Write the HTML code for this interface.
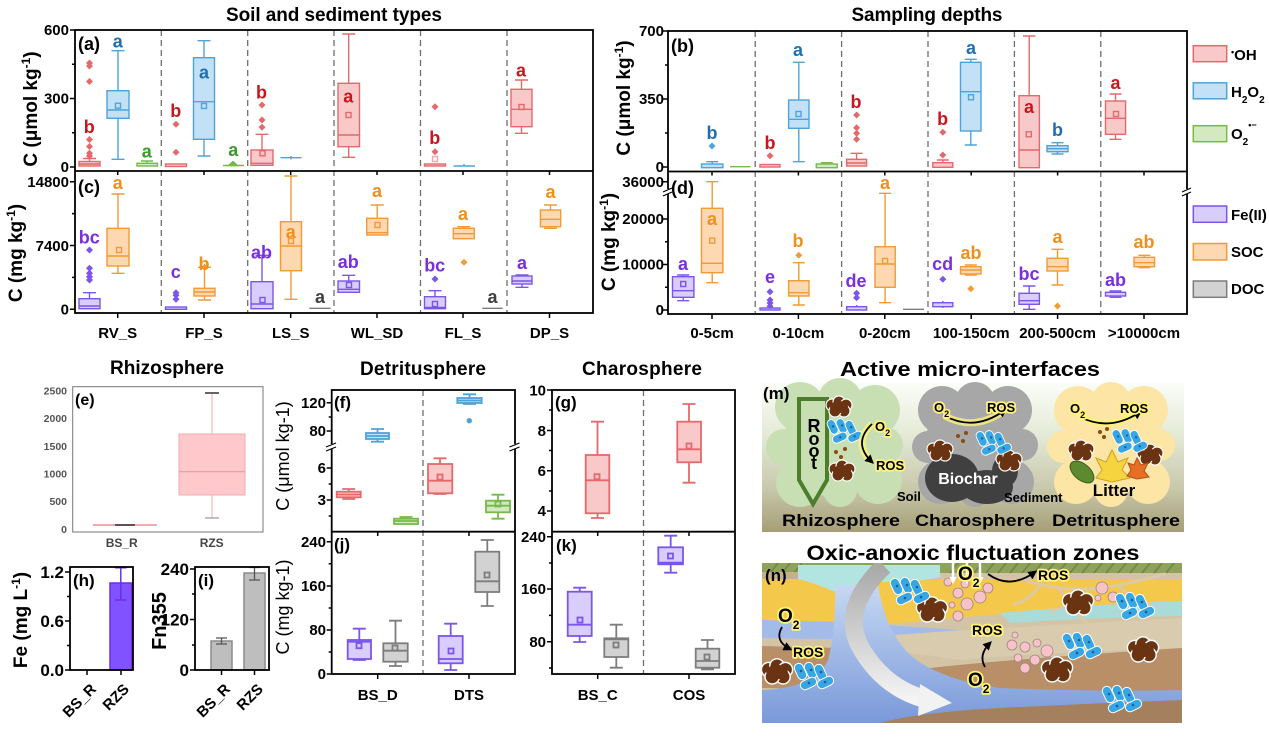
<!DOCTYPE html>
<html><head><meta charset="utf-8"><style>
html,body{margin:0;padding:0;background:#fff}
svg{display:block}
text{font-family:"Liberation Sans",Arial,sans-serif;font-weight:bold}
.R{stroke:#e3696b;fill:#f9c9ca}
.B{stroke:#4fa3d8;fill:#c2e1f6}
.G{stroke:#77b94a;fill:#d3eabf}
.P{stroke:#7c55ea;fill:#d9cdfc}
.O{stroke:#f29a35;fill:#fdd8b0}
.K{stroke:#7d7d7d;fill:#d2d2d2}
.R,.B,.G,.P,.O,.K{stroke-width:1.4}
.lw .R,.lw .B,.lw .G,.lw .P,.lw .O,.lw .K{stroke-width:1.8}
.w,.m{fill:none}
.tk{stroke:#000;stroke-width:1.5;fill:none}
.dv{stroke:#6e6e6e;stroke-width:1.3;stroke-dasharray:6 4;fill:none}
.t15{font-size:15px}
.halo{paint-order:stroke;stroke:#fff27a;stroke-width:3.5px;stroke-linejoin:round}
</style></head><body>
<svg width="1269" height="739" viewBox="0 0 1269 739" xmlns="http://www.w3.org/2000/svg">
<defs>
<path id="dm" d="M0,-3.5L3.5,0L0,3.5L-3.5,0Z"/>
<marker id="ah" viewBox="0 0 10 10" refX="7" refY="5" markerWidth="5" markerHeight="5" orient="auto"><path d="M0,0L10,5L0,10z" fill="#000"/></marker>
<marker id="ahw" viewBox="0 0 10 10" refX="7" refY="5" markerWidth="3" markerHeight="3" orient="auto"><path d="M0,0L10,5L0,10z" fill="#fff"/></marker>
<linearGradient id="mg" x1="0" y1="0" x2="0" y2="1"><stop offset="0" stop-color="#fbfdf8"/><stop offset="0.35" stop-color="#e4ead6"/><stop offset="0.7" stop-color="#c9c9ac"/><stop offset="1" stop-color="#a69e76"/></linearGradient>
<linearGradient id="rv" x1="0" y1="0" x2="0" y2="1"><stop offset="0" stop-color="#c6d8f2"/><stop offset="1" stop-color="#7a99da"/></linearGradient>
<linearGradient id="ag" x1="0" y1="0" x2="0" y2="1"><stop offset="0" stop-color="#a9a9a9"/><stop offset="1" stop-color="#f4f4f4"/></linearGradient>
<g id="bac" fill="#36a6e5" stroke="#fff" stroke-width="1">
<rect x="-16" y="-12" width="9" height="17" rx="4.5" transform="rotate(-25 -11.5 -3.5)"/>
<rect x="-6" y="-13" width="9" height="17" rx="4.5" transform="rotate(-25 -1.5 -4.5)"/>
<rect x="4" y="-11" width="9" height="17" rx="4.5" transform="rotate(-25 8.5 -2.5)"/>
<rect x="-12" y="4" width="17" height="9" rx="4.5" transform="rotate(-25 -3.5 8.5)"/>
<rect x="5" y="3" width="17" height="9" rx="4.5" transform="rotate(-25 13.5 7.5)"/>
<circle cx="-11" cy="-4" r="1.3" fill="#1d5e9a" stroke="none"/><circle cx="-1" cy="-5" r="1.3" fill="#1d5e9a" stroke="none"/><circle cx="9" cy="-3" r="1.3" fill="#1d5e9a" stroke="none"/><circle cx="-3" cy="8" r="1.3" fill="#1d5e9a" stroke="none"/><circle cx="13" cy="7" r="1.3" fill="#1d5e9a" stroke="none"/>
</g>
<g id="agg" fill="#6a3311" stroke="#fff" stroke-width="1.2">
<circle cx="-7" cy="-2" r="6"/><circle cx="0" cy="-5" r="6"/><circle cx="7" cy="-2" r="6"/><circle cx="5" cy="4" r="6"/><circle cx="-4" cy="4" r="6"/>
<ellipse rx="9" ry="6" stroke="none"/>
</g>
</defs>

<!-- Titles -->
<text x="334" y="21" font-size="19" text-anchor="middle" textLength="216">Soil and sediment types</text>
<text x="927" y="21" font-size="19" text-anchor="middle" textLength="151">Sampling depths</text>

<!-- dividers -->
<path class="dv" d="M161.3 30V313M247.7 30V313M334 30V313M420.5 30V313M507 30V313"/>
<path class="dv" d="M755.2 31V314M841.6 31V314M928 31V314M1014.4 31V314M1100.8 31V314"/>
<path class="dv" d="M423 390V674M643.5 390V674"/>

<!-- ===== Panel a ===== -->
<g class="R">
<rect x="79" y="161.5" width="21" height="4.5"/><path class="w" d="M89.5 158.5V161.5M83 158.5h13M79 164H100"/>
<rect x="165.5" y="164" width="21" height="2.5"/>
<rect x="251" y="150" width="22" height="15.3"/><path class="w" d="M262 134.3V150M255.5 134.3h13M251 163.3H273"/><rect class="m" x="260" y="150.8" width="5" height="5"/>
<rect x="338" y="83.3" width="21.5" height="63.4"/><path class="w" d="M348.7 34V83.3M348.7 146.7V157.3M342.2 34h13M342.2 157.3h13M338 135H359.5"/><rect class="m" x="346" y="112.5" width="5" height="5"/>
<rect x="424.5" y="164" width="21" height="2"/><rect class="m" x="432.5" y="156.5" width="5" height="5" style="stroke:#f0a8aa"/>
<rect x="511" y="89.3" width="21" height="37.4"/><path class="w" d="M521.5 80V89.3M521.5 126.7V133.3M515 80h13M515 133.3h13M511 109.3H532"/><rect class="m" x="519" y="104.5" width="5" height="5"/>
</g>
<g fill="#e3696b">
<use href="#dm" x="89.5" y="63"/><use href="#dm" x="89.5" y="66"/><use href="#dm" x="89.5" y="81.5"/><use href="#dm" x="89.5" y="139.5"/><use href="#dm" x="89.5" y="146.5"/><use href="#dm" x="89.5" y="153.3"/><use href="#dm" x="89.5" y="156"/>
<use href="#dm" x="176" y="124.3"/><use href="#dm" x="176" y="152.3"/>
<use href="#dm" x="262" y="105"/><use href="#dm" x="262" y="120"/><use href="#dm" x="262" y="127.3"/>
<use href="#dm" x="435" y="106.7"/><use href="#dm" x="435" y="151.7"/>
<use href="#dm" x="770" y="155.7"/><use href="#dm" x="856.6" y="115"/><use href="#dm" x="856.6" y="127.7"/><use href="#dm" x="856.6" y="133.3"/><use href="#dm" x="856.6" y="139.3"/>
<use href="#dm" x="942.8" y="132.3"/><use href="#dm" x="942.8" y="155"/>
</g>
<g class="B">
<rect x="107" y="90.7" width="22" height="27.6"/><path class="w" d="M118 50.7V90.7M118 118.3V159.3M111.5 50.7h13M111.5 159.3h13M107 110H129"/><rect class="m" x="115.5" y="103.2" width="5" height="5"/>
<rect x="193.5" y="57.7" width="21" height="81.6"/><path class="w" d="M204 40.7V57.7M204 139.3V156M197.5 40.7h13M197.5 156h13M193.5 101.7H214.5"/><rect class="m" x="201.5" y="103.5" width="5" height="5"/>
<path class="w" d="M280.5 157.7H301.5M291 156V159.5"/>
<path class="w" d="M453.5 166H475M464 164V166"/>
</g>
<g class="G">
<rect x="137" y="163.3" width="20.5" height="2.7"/><path class="w" d="M147 161V163.3M141 161h12"/>
<path class="w" d="M223 165.5H244"/><path d="M233 161.5l4.5 4h-9z" fill="#77b94a"/>
</g>

<!-- ===== Panel c ===== -->
<g class="P">
<rect x="79" y="298.7" width="21" height="10"/><path class="w" d="M89.5 292.7V298.7M83 292.7h13M79 306H100"/>
<rect x="165.5" y="307" width="21" height="2.3"/>
<rect x="251" y="281.7" width="22" height="27"/><path class="w" d="M262 255.3V281.7M255.5 255.3h13M251 304H273"/><rect class="m" x="260" y="297.5" width="5" height="5"/>
<rect x="338" y="281" width="21.5" height="11.3"/><path class="w" d="M348.7 275.3V281M342.2 275.3h13M338 289.3H359.5"/><rect class="m" x="346.5" y="282.5" width="5" height="5"/>
<rect x="424.5" y="296.7" width="21" height="12"/><path class="w" d="M435 290.7V296.7M428.5 290.7h13M424.5 307.5H445.5"/><rect class="m" x="432.5" y="301.5" width="5" height="5"/>
<rect x="512" y="276" width="20" height="8"/><path class="w" d="M522 275V276M522 284V287.3M515.5 275h13M515.5 287.3h13M512 281H532"/>
</g>
<g fill="#7c55ea">
<use href="#dm" x="89.5" y="250"/><use href="#dm" x="89.5" y="268.3"/><use href="#dm" x="89.5" y="273.3"/><use href="#dm" x="89.5" y="276.7"/><use href="#dm" x="89.5" y="280"/>
<use href="#dm" x="176" y="292.7"/><use href="#dm" x="176" y="295.3"/><use href="#dm" x="176" y="299.3"/><use href="#dm" x="435" y="279"/>
<use href="#dm" x="770" y="291.7"/><use href="#dm" x="770" y="300"/><use href="#dm" x="770" y="303"/><use href="#dm" x="770" y="306.3"/>
<use href="#dm" x="856.6" y="293.3"/><use href="#dm" x="856.6" y="297.7"/><use href="#dm" x="942.8" y="279.3"/>
</g>
<g class="O">
<rect x="107" y="228.3" width="22" height="37.7"/><path class="w" d="M118 194V228.3M118 266V273.3M111.5 194h13M111.5 273.3h13M107 256H129"/><rect class="m" x="116.5" y="247.5" width="5" height="5"/>
<rect x="194" y="288.3" width="21" height="7.7"/><path class="w" d="M204.5 267.3V288.3M204.5 296V300M198 267.3h13M198 300h13M194 292H215"/>
<rect x="280.5" y="221.7" width="21" height="49"/><path class="w" d="M291 176V221.7M291 270.7V299.3M284.5 176h13M284.5 299.3h13M280.5 246H301.5"/><rect class="m" x="288.5" y="238.5" width="5" height="5"/>
<rect x="366.7" y="218.3" width="21" height="16.7"/><path class="w" d="M377.2 205V218.3M370.7 205h13M366.7 232.7H387.7"/><rect class="m" x="375" y="222.5" width="5" height="5"/>
<rect x="453.3" y="228.3" width="21" height="10.4"/><path class="w" d="M463.8 226.7V228.3M457.3 226.7h13M453.3 233.7H474.3"/>
<rect x="540.4" y="210" width="20.3" height="16.7"/><path class="w" d="M550.5 205V210M550.5 226.7V228.3M544 205h13M544 228.3h13M540.4 219.3H560.7"/>
</g>
<g fill="#f29a35">
<use href="#dm" x="204.5" y="267.3"/><use href="#dm" x="464" y="262.3"/>
<use href="#dm" x="798.8" y="255.3"/><use href="#dm" x="970.8" y="288.7"/><use href="#dm" x="1057.5" y="306"/>
</g>
<g class="K"><path class="w" d="M309.3 308.3H330.7M482.3 308.3H502.7M903 309.3H924"/></g>

<!-- ===== Panel b ===== -->
<g class="R">
<rect x="760" y="164.5" width="20" height="2.5"/>
<rect x="846.6" y="159.3" width="20" height="6.7"/><path class="w" d="M856.6 153.3V159.3M850.6 153.3h12M846.6 163H866.6"/>
<rect x="932.8" y="162.7" width="20" height="4.6"/><path class="w" d="M942.8 160V162.7M936.8 160h12"/>
<rect x="1019" y="95.7" width="20.4" height="72"/><path class="w" d="M1029.2 36V95.7M1023 36h12.4M1019 150H1039.4"/><rect class="m" x="1026.3" y="131.8" width="5" height="5"/>
<rect x="1105.5" y="101" width="20.1" height="33.3"/><path class="w" d="M1115.5 94V101M1115.5 134.3V139.3M1109.5 94h12M1109.5 139.3h12M1105.5 118.3H1125.6"/><rect class="m" x="1113.5" y="111.5" width="5" height="5"/>
</g>
<g class="B">
<rect x="701.5" y="164" width="21.4" height="3.7"/><path class="w" d="M712.2 161.7V164M706.2 161.7h12"/>
<rect x="788.6" y="100" width="20.4" height="28.3"/><path class="w" d="M798.8 62.3V100M798.8 128.3V161.7M792.8 62.3h12M792.8 161.7h12M788.6 119.3H809"/><rect class="m" x="796" y="111.5" width="5" height="5"/>
<rect x="960.5" y="62.3" width="20.5" height="68.7"/><path class="w" d="M970.8 59.3V62.3M970.8 131V145M964.8 59.3h12M964.8 145h12M960.5 91.7H981"/><rect class="m" x="968.5" y="94.8" width="5" height="5"/>
<rect x="1047" y="145.7" width="21" height="6"/><path class="w" d="M1057.5 142.7V145.7M1057.5 151.7V154M1051.5 142.7h12M1051.5 154h12M1047 148.7H1068"/>
</g>
<g fill="#4fa3d8"><use href="#dm" x="712" y="146"/></g>
<g class="G">
<path class="w" d="M730 166.7H750.6"/>
<rect x="816.3" y="164" width="20.9" height="3.7"/><path class="w" d="M826.8 162.7V164M820.8 162.7h12"/>
</g>

<!-- ===== Panel d ===== -->
<g class="P">
<rect x="672.5" y="276.7" width="21.4" height="20.6"/><path class="w" d="M683.2 275V276.7M683.2 297.3V300.7M677.2 275h12M677.2 300.7h12M672.5 290.7H693.9"/><rect class="m" x="680.7" y="281.5" width="5" height="5"/>
<rect x="760" y="308" width="20" height="2"/>
<rect x="846.6" y="306.7" width="20" height="3.3"/><path class="w" d="M856.6 305V306.7"/>
<rect x="932.8" y="302.7" width="20" height="4"/><path class="w" d="M942.8 301V302.7M942.8 306.7V308"/>
<rect x="1019" y="293.3" width="20.4" height="11"/><path class="w" d="M1029.2 286V293.3M1029.2 304.3V309.3M1023 286h12.4M1023 309.3h12.4M1019 300.7H1039.4"/>
<rect x="1105.5" y="292.3" width="20.1" height="3.7"/><path class="w" d="M1115.5 291V292.3M1115.5 296V297.3M1109.5 291h12M1109.5 297.3h12"/>
</g>
<g class="O">
<rect x="701.5" y="208.3" width="21.4" height="64.4"/><path class="w" d="M712.2 181.7V208.3M712.2 272.7V282.7M706.2 181.7h12M706.2 282.7h12M701.5 263.3H722.9"/><rect class="m" x="709.7" y="238.2" width="5" height="5"/>
<rect x="788.6" y="280.7" width="20.4" height="15.3"/><path class="w" d="M798.8 262.7V280.7M798.8 296V305M792.8 262.7h12M792.8 305h12M788.6 292.7H809"/>
<rect x="875" y="246.7" width="20.2" height="40.6"/><path class="w" d="M885.1 193.3V246.7M885.1 287.3V302.7M879.1 193.3h12M879.1 302.7h12M875 264H895.2"/><rect class="m" x="882.6" y="258.5" width="5" height="5"/>
<rect x="960.5" y="266.7" width="20.5" height="7.3"/><path class="w" d="M970.8 265V266.7M970.8 274V275M964.8 265h12M964.8 275h12M960.5 270H981"/>
<rect x="1047" y="258.3" width="21" height="12.7"/><path class="w" d="M1057.5 249.3V258.3M1057.5 271V285M1051.5 249.3h12M1051.5 285h12M1047 266.7H1068"/>
<rect x="1134" y="257.3" width="20.6" height="9.4"/><path class="w" d="M1144.3 255.3V257.3M1144.3 266.7V267.7M1138.3 255.3h12M1138.3 267.7h12M1134 262.7H1154.6"/>
</g>

<!-- frames -->
<g stroke="#000" stroke-width="1.8" fill="none">
<rect x="75" y="30" width="518" height="283"/><line x1="75" y1="171" x2="593" y2="171"/>
<rect x="668" y="31" width="519" height="283"/><line x1="668" y1="171.5" x2="1187" y2="171.5"/>
</g>
<!-- ticks top panels -->
<path class="tk" d="M70 30H75M70 98.5H75M70 167H75M72 64.3H75M72 132.8H75M70 181.7H75M70 245.5H75M70 309.3H75M72 213.6H75M72 277.4H75
M117.7 313V318M204 313V318M290.7 313V318M377 313V318M463 313V318M549.5 313V318
M117.7 171V175M204 171V175M290.7 171V175M377 171V175M463 171V175M549.5 171V175
M663 31H668M663 99H668M663 167H668M665 65H668M665 133H668M663 181.7H668M663 219H668M663 264.5H668M663 310H668M665 287.2H668M665 241.7H668
M712 314V319M798.4 314V319M884.8 314V319M971.2 314V319M1057.6 314V319M1144 314V319
M712 171.5V175.5M798.4 171.5V175.5M884.8 171.5V175.5M971.2 171.5V175.5M1057.6 171.5V175.5M1144 171.5V175.5"/>
<!-- break marks d -->
<rect x="664" y="189" width="8" height="5" fill="#fff"/><path d="M663 192l9-4M663 196l9-4" stroke="#000" stroke-width="1.2"/>
<rect x="1183" y="189" width="8" height="5" fill="#fff"/><path d="M1182 192l9-4M1182 196l9-4" stroke="#000" stroke-width="1.2"/>

<!-- tick labels top -->
<g class="t15" text-anchor="end">
<text x="69" y="35">600</text><text x="69" y="103.5">300</text><text x="69" y="172">0</text>
<text x="69" y="187">14800</text><text x="69" y="251">7400</text><text x="69" y="314.5">0</text>
<text x="664" y="36">700</text><text x="664" y="104">350</text><text x="664" y="172">0</text>
<text x="664" y="187">36000</text><text x="664" y="224">20000</text><text x="664" y="269.5">10000</text><text x="664" y="315">0</text>
</g>
<g class="t15" text-anchor="middle">
<text x="117.7" y="338">RV_S</text><text x="204" y="338">FP_S</text><text x="290.7" y="338">LS_S</text><text x="377" y="338">WL_SD</text><text x="463" y="338">FL_S</text><text x="549.5" y="338">DP_S</text>
<text x="712" y="338">0-5cm</text><text x="798.4" y="338">0-10cm</text><text x="884.8" y="338">0-20cm</text><text x="971.2" y="338">100-150cm</text><text x="1057.6" y="338">200-500cm</text><text x="1144" y="338">&gt;10000cm</text>
</g>
<!-- y axis labels top -->
<text transform="translate(37,109) rotate(-90)" font-size="19" text-anchor="middle">C (μmol kg<tspan font-size="12" baseline-shift="super">-1</tspan>)</text>
<text transform="translate(22,253) rotate(-90)" font-size="19" text-anchor="middle">C (mg kg<tspan font-size="12" baseline-shift="super">-1</tspan>)</text>
<text transform="translate(630,98) rotate(-90)" font-size="19" text-anchor="middle">C (μmol kg<tspan font-size="12" baseline-shift="super">-1</tspan>)</text>
<text transform="translate(615,242) rotate(-90)" font-size="19" text-anchor="middle">C (mg kg<tspan font-size="12" baseline-shift="super">-1</tspan>)</text>
<!-- panel letters -->
<g font-size="18">
<text x="78" y="50">(a)</text><text x="78" y="193">(c)</text><text x="671" y="52">(b)</text><text x="671" y="194">(d)</text>
</g>
<!-- significance letters -->
<g font-size="18" text-anchor="middle">
<g fill="#c8161d"><text x="89.3" y="133">b</text><text x="175.7" y="117">b</text><text x="261.5" y="98.3">b</text><text x="348.3" y="102.7">a</text><text x="434.7" y="144">b</text><text x="521" y="76.7">a</text>
<text x="770" y="149">b</text><text x="856" y="108">b</text><text x="942.6" y="125">b</text><text x="1029" y="113">a</text><text x="1115.5" y="89">a</text></g>
<g fill="#1f6fb0"><text x="117.7" y="47.5">a</text><text x="204" y="78.5">a</text><text x="712" y="139">b</text><text x="798" y="56">a</text><text x="971" y="54">a</text><text x="1057.5" y="136">b</text></g>
<g fill="#3a9a2a"><text x="146.7" y="157.5">a</text><text x="233.3" y="156">a</text></g>
<g fill="#7a2ee0"><text x="89.3" y="243.5">bc</text><text x="175.7" y="278">c</text><text x="261.5" y="258.5">ab</text><text x="348.3" y="268">ab</text><text x="434.7" y="271.5">bc</text><text x="522" y="269">a</text>
<text x="683" y="270">a</text><text x="770" y="283">e</text><text x="856" y="287">de</text><text x="942.6" y="270">cd</text><text x="1029" y="280">bc</text><text x="1115.5" y="286">ab</text></g>
<g fill="#f0901a"><text x="117.7" y="189">a</text><text x="204" y="270">b</text><text x="290.7" y="238">a</text><text x="377" y="197">a</text><text x="463" y="220">a</text><text x="550.5" y="198">a</text>
<text x="712" y="225">a</text><text x="798" y="247">b</text><text x="885" y="189">a</text><text x="971" y="259">ab</text><text x="1057.5" y="243">a</text><text x="1144" y="248">ab</text></g>
<g fill="#404040"><text x="320" y="303">a</text><text x="492.5" y="303">a</text></g>
</g>

<!-- legend -->
<g stroke-width="1.5">
<rect x="1193.3" y="45.7" width="33.4" height="16" fill="#f9c9ca" stroke="#e3696b"/>
<rect x="1193.3" y="82.8" width="33.4" height="16" fill="#c2e1f6" stroke="#4fa3d8"/>
<rect x="1193.3" y="125.7" width="33.4" height="16" fill="#d3eabf" stroke="#77b94a"/>
<rect x="1193.3" y="206" width="33.4" height="16.3" fill="#d9cdfc" stroke="#7c55ea"/>
<rect x="1193.3" y="243.5" width="33.4" height="16.5" fill="#fdd8b0" stroke="#f29a35"/>
<rect x="1193.3" y="281" width="33.4" height="16.3" fill="#d2d2d2" stroke="#7d7d7d"/>
</g>
<g class="t15">
<text x="1231" y="60"><tspan font-size="9" baseline-shift="super">•</tspan>OH</text>
<text x="1231" y="97">H<tspan font-size="10" baseline-shift="sub">2</tspan>O<tspan font-size="10" baseline-shift="sub">2</tspan></text>
<text x="1231" y="139">O<tspan font-size="10" baseline-shift="sub">2</tspan><tspan font-size="9" dy="-11">•−</tspan></text>
<text x="1231" y="220">Fe(II)</text><text x="1231" y="257">SOC</text><text x="1231" y="294">DOC</text>
</g>

<!-- ===== Rhizosphere (e) ===== -->
<text x="167" y="374" font-size="19" text-anchor="middle" textLength="114">Rhizosphere</text>
<rect x="72.7" y="386.7" width="190.3" height="145.3" fill="none" stroke="#777" stroke-width="1"/>
<rect x="179" y="434" width="66" height="61" fill="#ffc9cc" stroke="#f4a9ae"/>
<path d="M179 471.7H245" stroke="#e89aa0" stroke-width="1.2"/>
<path d="M212 393V434M212 495V518" stroke="#f2b8bc" stroke-width="1.2"/>
<path d="M205 393H219" stroke="#333" stroke-width="1.5"/><path d="M205 518H219" stroke="#aaa" stroke-width="1.5"/>
<path d="M93 525H157" stroke="#f4a9ae" stroke-width="2"/><path d="M115 525H135" stroke="#333" stroke-width="1.5"/>
<g font-size="10.5" fill="#555" text-anchor="end">
<text x="67" y="394.5">2500</text><text x="67" y="422">2000</text><text x="67" y="450">1500</text><text x="67" y="477.5">1000</text><text x="67" y="505">500</text><text x="67" y="533">0</text>
</g>
<g font-size="12" fill="#444" text-anchor="middle"><text x="121.7" y="547">BS_R</text><text x="211.7" y="547">RZS</text></g>
<text x="75" y="405" font-size="16">(e)</text>

<!-- (h) -->
<rect x="110" y="583" width="21.7" height="87" fill="#8152ff" stroke="#6a30e0" stroke-width="1.5"/>
<path d="M120.8 567.7V600M115 567.7h11.6M115 600h11.6" stroke="#6a30e0" stroke-width="1.5"/>
<rect x="70" y="567" width="63" height="103" fill="none" stroke="#000" stroke-width="1.8"/>
<path class="tk" d="M65 572H70M65 621H70M65 670H70M67 596.5H70M67 645.5H70M87 670V675M121 670V675"/>
<g font-size="17" text-anchor="end"><text x="64" y="578">1.2</text><text x="64" y="627">0.6</text><text x="64" y="676">0.0</text></g>
<text x="73" y="586" font-size="17">(h)</text>
<text transform="translate(27,620) rotate(-90)" font-size="19" text-anchor="middle">Fe (mg L<tspan font-size="12" baseline-shift="super">-1</tspan>)</text>
<g font-size="15" text-anchor="end">
<text transform="translate(97,690) rotate(-45)">BS_R</text><text transform="translate(130,690) rotate(-45)">RZS</text>
<text transform="translate(231,690) rotate(-45)">BS_R</text><text transform="translate(264,690) rotate(-45)">RZS</text>
</g>
<!-- (i) -->
<rect x="211" y="641" width="21" height="29" fill="#bebebe" stroke="#8c8c8c" stroke-width="1.5"/>
<rect x="244" y="573" width="21" height="97" fill="#bebebe" stroke="#8c8c8c" stroke-width="1.5"/>
<path d="M221.5 638V644M216 638h11M216 644h11M254.5 567.5V580M249 567.5h11M249 580h11" stroke="#555" stroke-width="1.3"/>
<rect x="195" y="567" width="74" height="103" fill="none" stroke="#000" stroke-width="1.8"/>
<path class="tk" d="M190 569H195M190 619.5H195M190 670H195M192 594H195M192 645H195M221.5 670V675M254.5 670V675"/>
<g font-size="17" text-anchor="end"><text x="189" y="575">240</text><text x="189" y="625.5">120</text><text x="189" y="676">0</text></g>
<text x="198" y="586" font-size="17">(i)</text>
<text transform="translate(166,621) rotate(-90)" font-size="20" text-anchor="middle">Fn355</text>

<!-- ===== (f)(j)(g)(k) ===== -->
<text x="423" y="375" font-size="19" text-anchor="middle" textLength="126">Detritusphere</text>
<text x="642" y="375" font-size="19" text-anchor="middle" textLength="120">Charosphere</text>
<g class="lw">
<g class="R">
<rect x="336.7" y="491.7" width="24" height="5.6"/><path class="w" d="M348.7 489V491.7M348.7 497.3V499M342.2 489h13M342.2 499h13M336.7 494.5H360.7"/>
<rect x="428" y="464" width="24.3" height="29.3"/><path class="w" d="M440 458.3V464M440 493.3V494M433.5 458.3h13M433.5 494h13M428 480.7H452.3"/><rect class="m" x="437.5" y="474.5" width="5" height="5"/>
<rect x="585.7" y="455" width="23.6" height="58.3"/><path class="w" d="M597.5 421.7V455M597.5 513.3V518M591 421.7h13M591 518h13M585.7 480.3H609.3"/><rect class="m" x="594.5" y="474.2" width="5" height="5"/>
<rect x="677.3" y="421.7" width="23.7" height="40.6"/><path class="w" d="M689 404V421.7M689 462.3V482.7M682.5 404h13M682.5 482.7h13M677.3 449.3H701"/><rect class="m" x="686.5" y="443.5" width="5" height="5"/>
</g>
<g class="B">
<rect x="366" y="433" width="23" height="6"/><path class="w" d="M377.5 429V433M377.5 439V441.7M371 429h13M371 441.7h13M366 436H389"/>
<rect x="457.3" y="398" width="24.4" height="5"/><path class="w" d="M469.5 394.3V398M469.5 403V404M463 394.3h13M463 404h13M457.3 400.5H481.7"/>
<circle cx="469.3" cy="420.7" r="1.8" fill="#4fa3d8"/>
</g>
<g class="G">
<rect x="394" y="518.7" width="24" height="5.3"/><path class="w" d="M406 517V518.7M399.5 517h13M394 521H418"/>
<rect x="486" y="500.7" width="24" height="11.6"/><path class="w" d="M498 494.7V500.7M498 512.3V518.7M491.5 494.7h13M491.5 518.7h13M486 505.7H510"/><rect class="m" x="495.5" y="501.5" width="5" height="5"/>
</g>
<g class="P">
<rect x="347.7" y="640" width="23.3" height="19"/><path class="w" d="M359.3 628.7V640M359.3 659V660M352.8 628.7h13M352.8 660h13M347.7 641.7H371"/><rect class="m" x="356.5" y="643.2" width="5" height="5"/>
<rect x="438.7" y="636" width="24" height="27.3"/><path class="w" d="M450.7 623.7V636M450.7 663.3V670M444.2 623.7h13M444.2 670h13M438.7 659H462.7"/><rect class="m" x="448.5" y="648.5" width="5" height="5"/>
<rect x="567.7" y="591.7" width="24" height="44.3"/><path class="w" d="M579.7 587.7V591.7M579.7 636V642M573.2 587.7h13M573.2 642h13M567.7 624.7H591.7"/><rect class="m" x="577.5" y="617.5" width="5" height="5"/>
<rect x="658.3" y="547.3" width="24.7" height="17"/><path class="w" d="M670.7 535.7V547.3M670.7 564.3V572.7M664.2 535.7h13M664.2 572.7h13M658.3 562.7H683"/><rect class="m" x="668" y="553.5" width="5" height="5"/>
</g>
<g class="K">
<rect x="383.3" y="643.3" width="24.4" height="18.4"/><path class="w" d="M395.5 620.7V643.3M395.5 661.7V666M389 620.7h13M389 666h13M383.3 650.7H407.7"/><rect class="m" x="392.5" y="645.5" width="5" height="5"/>
<rect x="475.3" y="551.7" width="24" height="40.3"/><path class="w" d="M487.3 540V551.7M487.3 592V606M480.8 540h13M480.8 606h13M475.3 581.3H499.3"/><rect class="m" x="484.5" y="572.5" width="5" height="5"/>
<rect x="604.3" y="638.3" width="24" height="18.7"/><path class="w" d="M616.3 624.7V638.3M616.3 657V667.7M609.8 624.7h13M609.8 667.7h13M604.3 639.3H628.3"/><rect class="m" x="613.5" y="642.5" width="5" height="5"/>
<rect x="695.7" y="648.7" width="23.6" height="19"/><path class="w" d="M707.5 640V648.7M707.5 667.7V669.3M701 640h13M701 669.3h13M695.7 661H719.3"/><rect class="m" x="704.5" y="654.5" width="5" height="5"/>
</g>
</g>
<g stroke="#000" stroke-width="1.8" fill="none">
<rect x="331.7" y="390" width="183.3" height="284"/><line x1="331.7" y1="531.7" x2="515" y2="531.7"/>
<rect x="552" y="390" width="183" height="284"/><line x1="552" y1="531.7" x2="735" y2="531.7"/>
</g>
<path class="tk" d="M326.7 402.7H331.7M326.7 431H331.7M326.7 468H331.7M326.7 500H331.7M328.7 417H331.7M328.7 484H331.7M328.7 516H331.7
M326.7 541.7H331.7M326.7 586H331.7M326.7 630H331.7M326.7 674H331.7M328.7 563.8H331.7M328.7 608H331.7M328.7 652H331.7
M377.7 674V679M469 674V679M377.7 531.7V536M469 531.7V536
M547 390H552M547 430.5H552M547 470.7H552M547 511H552M549 410H552M549 450.5H552M549 491H552
M547 536.7H552M547 589H552M547 641.7H552M549 563H552M549 615.4H552M549 668H552
M597.7 674V679M689 674V679M597.7 531.7V536M689 531.7V536"/>
<rect x="327" y="444" width="9" height="5" fill="#fff"/><path d="M326 447l10-4M326 451l10-4" stroke="#000" stroke-width="1.2"/>
<rect x="510.5" y="444" width="9" height="5" fill="#fff"/><path d="M509.5 447l10-4M509.5 451l10-4" stroke="#000" stroke-width="1.2"/>
<g class="t15" text-anchor="end">
<text x="326" y="408">120</text><text x="326" y="436">80</text><text x="326" y="473">6</text><text x="326" y="505">3</text>
<text x="326" y="547">240</text><text x="326" y="591">160</text><text x="326" y="635">80</text><text x="326" y="679">0</text>
<text x="546" y="395.5">10</text><text x="546" y="436">8</text><text x="546" y="476">6</text><text x="546" y="516">4</text>
<text x="546" y="542">240</text><text x="546" y="594">160</text><text x="546" y="647">80</text>
</g>
<g class="t15" text-anchor="middle"><text x="377.7" y="700">BS_D</text><text x="469" y="700">DTS</text><text x="597.7" y="700">BS_C</text><text x="689" y="700">COS</text></g>
<g font-size="17"><text x="334" y="408">(f)</text><text x="334" y="550">(j)</text><text x="555" y="408">(g)</text><text x="556" y="551">(k)</text></g>
<text transform="translate(289,456) rotate(-90)" font-size="18" style="font-weight:normal" text-anchor="middle">C (μmol kg-1)</text>
<text transform="translate(289,607) rotate(-90)" font-size="18" style="font-weight:normal" text-anchor="middle">C (mg kg-1)</text>

<!-- ===== (m) Active micro-interfaces ===== -->
<text x="970" y="376" font-size="20" text-anchor="middle" textLength="260" lengthAdjust="spacingAndGlyphs">Active micro-interfaces</text>
<rect x="762" y="383" width="422" height="149" fill="url(#mg)"/>
<g fill="#c7dfb3">
<circle cx="835" cy="445" r="52"/><circle cx="800" cy="407" r="25"/><circle cx="840" cy="400" r="22"/><circle cx="875" cy="410" r="25"/><circle cx="885" cy="445" r="18"/><circle cx="878" cy="480" r="24"/><circle cx="840" cy="490" r="17"/><circle cx="800" cy="483" r="24"/><circle cx="784" cy="447" r="18"/>
</g>
<g fill="#a7a7a7">
<circle cx="975" cy="445" r="50"/><circle cx="942" cy="410" r="24"/><circle cx="975" cy="402" r="20"/><circle cx="1008" cy="410" r="24"/><circle cx="1022" cy="445" r="16"/><circle cx="1012" cy="482" r="22"/><circle cx="975" cy="490" r="17"/><circle cx="940" cy="482" r="22"/><circle cx="928" cy="447" r="16"/>
</g>
<g fill="#fde5a5">
<circle cx="1111" cy="445" r="50"/><circle cx="1078" cy="410" r="24"/><circle cx="1111" cy="402" r="20"/><circle cx="1144" cy="410" r="24"/><circle cx="1159" cy="445" r="16"/><circle cx="1148" cy="482" r="22"/><circle cx="1111" cy="490" r="17"/><circle cx="1076" cy="482" r="22"/><circle cx="1063" cy="447" r="16"/>
</g>
<polygon points="799,399 827,399 827,480 813,504 799,480" fill="none" stroke="#4b7d2b" stroke-width="4"/>
<g font-size="18" text-anchor="middle"><text x="814" y="432">R</text><text x="814" y="445">o</text><text x="814" y="457">o</text><text x="814" y="469">t</text></g>
<g fill="#404040"><ellipse cx="952" cy="478" rx="27" ry="24"/><ellipse cx="987" cy="487" rx="26" ry="17"/><ellipse cx="1005" cy="471" rx="13" ry="16"/></g>
<text x="968" y="484" font-size="16" fill="#fff" text-anchor="middle">Biochar</text>
<use href="#agg" transform="translate(839,407)"/><use href="#agg" transform="translate(842,471)"/>
<use href="#agg" transform="translate(940,451)"/><use href="#agg" transform="translate(1009,461)"/>
<use href="#agg" transform="translate(1081,451)"/><use href="#agg" transform="translate(1150,455)"/>
<use href="#bac" transform="translate(843,430) scale(0.9)"/><use href="#bac" transform="translate(992,442) scale(0.9)"/><use href="#bac" transform="translate(1128,440) scale(0.9)"/>
<g fill="#8a4a10"><circle cx="836" cy="452" r="2"/><circle cx="845" cy="449" r="2"/><circle cx="841" cy="457" r="2"/><circle cx="958" cy="436" r="2"/><circle cx="966" cy="433" r="2"/><circle cx="963" cy="441" r="2"/><circle cx="1100" cy="432" r="2"/><circle cx="1107" cy="429" r="2"/><circle cx="1104" cy="437" r="2"/></g>
<!-- leaves -->
<ellipse cx="1082" cy="472" rx="14" ry="8" transform="rotate(40 1082 472)" fill="#5c8a2e" stroke="#3d5e1c"/>
<path d="M1112 450L1118 462L1128 458L1122 470L1130 478L1112 482L1096 478L1102 470L1096 458L1106 462Z" fill="#f6d43f" stroke="#c9a227"/>
<path d="M1137 458L1141 465L1148 463L1144 471L1149 477L1137 479L1127 476L1131 470L1128 463L1134 465Z" fill="#e66f24" stroke="#b2501a"/>
<!-- glows & arrows -->
<g fill="none" stroke="#fbf47a" stroke-width="7" opacity="0.8">
<path d="M872 424Q852 443 872 462"/><path d="M945 416Q975 432 1005 410"/><path d="M1080 417Q1110 432 1140 412"/>
</g>
<g fill="none" stroke="#000" stroke-width="1.8" marker-end="url(#ah)">
<path d="M872 424Q852 443 872 462"/><path d="M945 416Q975 432 1005 410"/><path d="M1080 417Q1110 432 1140 412"/>
</g>
<g font-size="13" class="halo">
<text x="875" y="431">O<tspan font-size="9" baseline-shift="sub">2</tspan></text><text x="876" y="470">ROS</text>
<text x="934" y="412">O<tspan font-size="9" baseline-shift="sub">2</tspan></text><text x="987" y="412">ROS</text>
<text x="1070" y="413">O<tspan font-size="9" baseline-shift="sub">2</tspan></text><text x="1120" y="413">ROS</text>
</g>
<text x="1114" y="496" font-size="17" text-anchor="middle">Litter</text>
<text x="897" y="501" font-size="13">Soil</text><text x="1004" y="502" font-size="13">Sediment</text>
<g font-size="17" text-anchor="middle">
<text x="841" y="526" textLength="118" lengthAdjust="spacingAndGlyphs">Rhizosphere</text><text x="975" y="526" textLength="120" lengthAdjust="spacingAndGlyphs">Charosphere</text><text x="1116" y="526" textLength="128" lengthAdjust="spacingAndGlyphs">Detritusphere</text>
</g>
<text x="763" y="399" font-size="17">(m)</text>

<!-- ===== (n) Oxic-anoxic ===== -->
<text x="973" y="560" font-size="21" text-anchor="middle" textLength="333" lengthAdjust="spacingAndGlyphs">Oxic-anoxic fluctuation zones</text>
<clipPath id="nc"><rect x="762" y="563" width="420" height="160"/></clipPath>
<g clip-path="url(#nc)">
<rect x="762" y="563" width="420" height="160" fill="#d3c4a6"/>
<rect x="762" y="563" width="420" height="10" fill="#8ea25c"/>
<path d="M770 573l8-10M782 573l8-10M794 573l8-10M950 573l8-10M962 573l8-10M974 573l8-10M986 573l8-10M998 573l8-10M1010 573l8-10M1022 573l8-10M1034 573l8-10M1046 573l8-10M1058 573l8-10M1070 573l8-10M1082 573l8-10M1094 573l8-10M1106 573l8-10M1118 573l8-10M1130 573l8-10M1142 573l8-10M1154 573l8-10M1166 573l8-10" stroke="#6f8540" stroke-width="1.5"/>
<rect x="762" y="572" width="40" height="8" fill="#c3b18a"/>
<path d="M762 579H1182V603Q1100 606 1000 614Q930 620 880 625L840 624L762 622Z" fill="#f3c84b"/>
<path d="M1000 613Q1100 604 1182 601V616Q1100 617 1010 623Z" fill="#a9dcd9"/>
<path d="M798 565H940V577Q920 582 880 582Q850 583 835 592Q815 583 798 579Z" fill="#b2e4e2"/>
<path d="M762 620L840 622L900 626L960 630Q900 634 880 640L762 638Z" fill="#a3bbe8"/>
<path d="M880 636Q960 630 1182 618V648Q1050 652 960 660Q910 652 880 650Z" fill="#d9cbae"/>
<path d="M762 646L840 648Q880 656 930 668Q1000 660 1182 648V700Q1050 694 960 690Q900 685 860 690L762 688Z" fill="#b88f66"/>
<path d="M835 585L878 585Q885 630 910 655Q940 680 1000 688Q1100 692 1182 690V723H762V690Q815 688 828 660Q836 630 835 585Z" fill="url(#rv)"/>
<path d="M880 723Q920 712 1000 708Q1100 703 1182 700V723Z" fill="#a5805e"/>
<g fill="none" stroke="#dcc9a5" stroke-width="3" stroke-linecap="round">
<path d="M1025 580Q1060 592 1100 588Q1130 584 1165 574"/><path d="M1060 590Q1072 610 1090 626"/><path d="M1085 598L1050 612"/><path d="M1120 586Q1130 600 1150 605"/><path d="M1040 585Q1030 600 1015 604"/>
</g>
<path d="M884 566Q838 610 862 650Q885 688 925 699" fill="none" stroke="url(#ag)" stroke-width="18"/>
<polygon points="920,684 952,703 918,716" fill="#f2f2f2"/>
<g fill="#f7c3c8" stroke="#9f8585" stroke-width="0.8">
<circle cx="948" cy="582" r="4"/><circle cx="965" cy="584" r="4"/><circle cx="958" cy="593" r="5"/><circle cx="980" cy="597" r="6"/><circle cx="952" cy="605" r="3"/><circle cx="967" cy="604" r="6"/><circle cx="958" cy="616" r="5"/><circle cx="988" cy="588" r="5"/>
<circle cx="1015" cy="635" r="3"/><circle cx="1012" cy="645" r="5"/><circle cx="1025" cy="647" r="5"/><circle cx="1037" cy="643" r="4"/><circle cx="1047" cy="651" r="6"/><circle cx="1018" cy="658" r="4"/><circle cx="1035" cy="660" r="5"/><circle cx="1025" cy="668" r="5"/>
<circle cx="1102" cy="588" r="6"/><circle cx="1113" cy="597" r="5"/><circle cx="1098" cy="598" r="3"/>
</g>
<use href="#agg" transform="translate(932,610) scale(1.2)"/><use href="#agg" transform="translate(1078,603) scale(1.2)"/><use href="#agg" transform="translate(777,672) scale(1.2)"/><use href="#agg" transform="translate(1057,670) scale(1.2)"/><use href="#agg" transform="translate(1143,650) scale(1.2)"/>
<use href="#bac" transform="translate(908,590)"/><use href="#bac" transform="translate(1133,605)"/><use href="#bac" transform="translate(812,675)"/><use href="#bac" transform="translate(1080,645)"/><use href="#bac" transform="translate(1120,698)"/>
<g stroke="#fff" stroke-width="2.5" marker-end="url(#ahw)"><path d="M953 563V582"/><path d="M967 563V582"/><path d="M980 563V582"/></g>
<g fill="none" stroke="#000" stroke-width="1.8" marker-end="url(#ah)">
<path d="M782 627Q774 641 790 649"/><path d="M985 667Q978 655 990 643"/><path d="M988 574Q1010 590 1035 572"/>
</g>
<g class="halo">
<text x="778" y="622" font-size="19">O<tspan font-size="12" baseline-shift="sub">2</tspan></text>
<text x="793" y="657" font-size="14">ROS</text>
<text x="972" y="635" font-size="14">ROS</text>
<text x="968" y="686" font-size="19">O<tspan font-size="12" baseline-shift="sub">2</tspan></text>
<text x="958" y="580" font-size="19">O<tspan font-size="12" baseline-shift="sub">2</tspan></text>
<text x="1038" y="580" font-size="14">ROS</text>
</g>
<text x="765" y="581" font-size="17">(n)</text>
</g>
</svg>
</body></html>
